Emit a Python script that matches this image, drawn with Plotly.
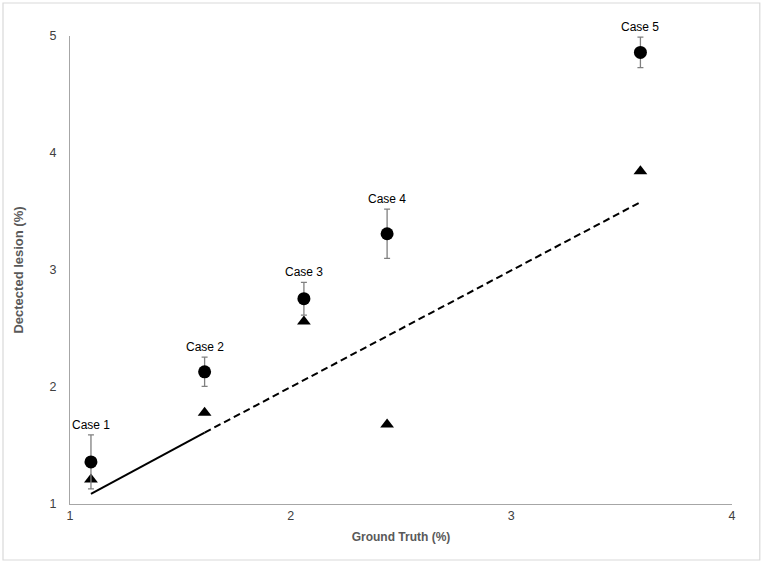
import plotly.graph_objects as go

cases = ["Case 1", "Case 2", "Case 3", "Case 4", "Case 5"]
ground_truth = [1.095, 1.61, 2.06, 2.437, 3.585]
detected_mean = [1.36, 2.13, 2.755, 3.31, 4.86]
detected_err = [0.23, 0.125, 0.14, 0.21, 0.13]
triangle_vals = [1.21, 1.78, 2.56, 1.68, 3.845]
solid_x = [1.095, 1.61]
solid_y = [1.086, 1.61]
dash_x = [1.61, 3.585]
dash_y = [1.61, 3.58]

FONT = "Liberation Sans, Arial, sans-serif"

fig = go.Figure()

fig.add_trace(go.Scatter(x=solid_x, y=solid_y, mode="lines",
                         line=dict(color="black", width=2), showlegend=False))
fig.add_trace(go.Scatter(x=dash_x, y=dash_y, mode="lines",
                         line=dict(color="black", width=2, dash="7px,4px"), showlegend=False))

fig.add_trace(go.Scatter(x=ground_truth, y=triangle_vals, mode="markers",
                         marker=dict(symbol="triangle-up", size=12, color="black"),
                         showlegend=False))

fig.add_trace(go.Scatter(x=ground_truth, y=detected_mean, mode="markers",
                         marker=dict(symbol="circle", size=13, color="black"),
                         error_y=dict(type="data", array=detected_err, visible=True,
                                      color="#808080", thickness=1.3, width=3),
                         showlegend=False))

for c, x, y, e in zip(cases, ground_truth, detected_mean, detected_err):
    fig.add_annotation(x=x, y=y + e, text=c, showarrow=False, yanchor="bottom",
                       yshift=1, font=dict(family=FONT, size=12, color="black"))

fig.add_shape(type="rect", xref="paper", yref="paper",
              x0=-0.1012, x1=1.042, y0=-0.1197, y1=1.0705,
              line=dict(color="#d9d9d9", width=1.2), fillcolor="rgba(0,0,0,0)")

fig.update_layout(
    width=765, height=565,
    margin=dict(l=70, r=33, t=36, b=61),
    plot_bgcolor="white", paper_bgcolor="white",
    font=dict(family=FONT, size=12, color="#595959"),
    xaxis=dict(range=[1, 4], tickvals=[1, 2, 3, 4], showgrid=False, zeroline=False,
               showline=True, linecolor="#a6a6a6", linewidth=1.3, ticks="",
               tickfont=dict(size=12.5, color="#404040"),
               title=dict(text="<b>Ground Truth (%)</b>", standoff=10,
                          font=dict(size=12, color="#595959"))),
    yaxis=dict(range=[1, 5], tickvals=[1, 2, 3, 4, 5], showgrid=False, zeroline=False,
               showline=True, linecolor="#a6a6a6", linewidth=1.3, ticks="",
               ticklabelstandoff=10,
               tickfont=dict(size=12.5, color="#404040"),
               title=dict(text="<b>Dectected lesion (%)</b>", standoff=22,
                          font=dict(size=13, color="#595959"))),
)

fig.write_html("out.html", config={"displayModeBar": False},
               post_script="document.body.style.margin='0px';")
